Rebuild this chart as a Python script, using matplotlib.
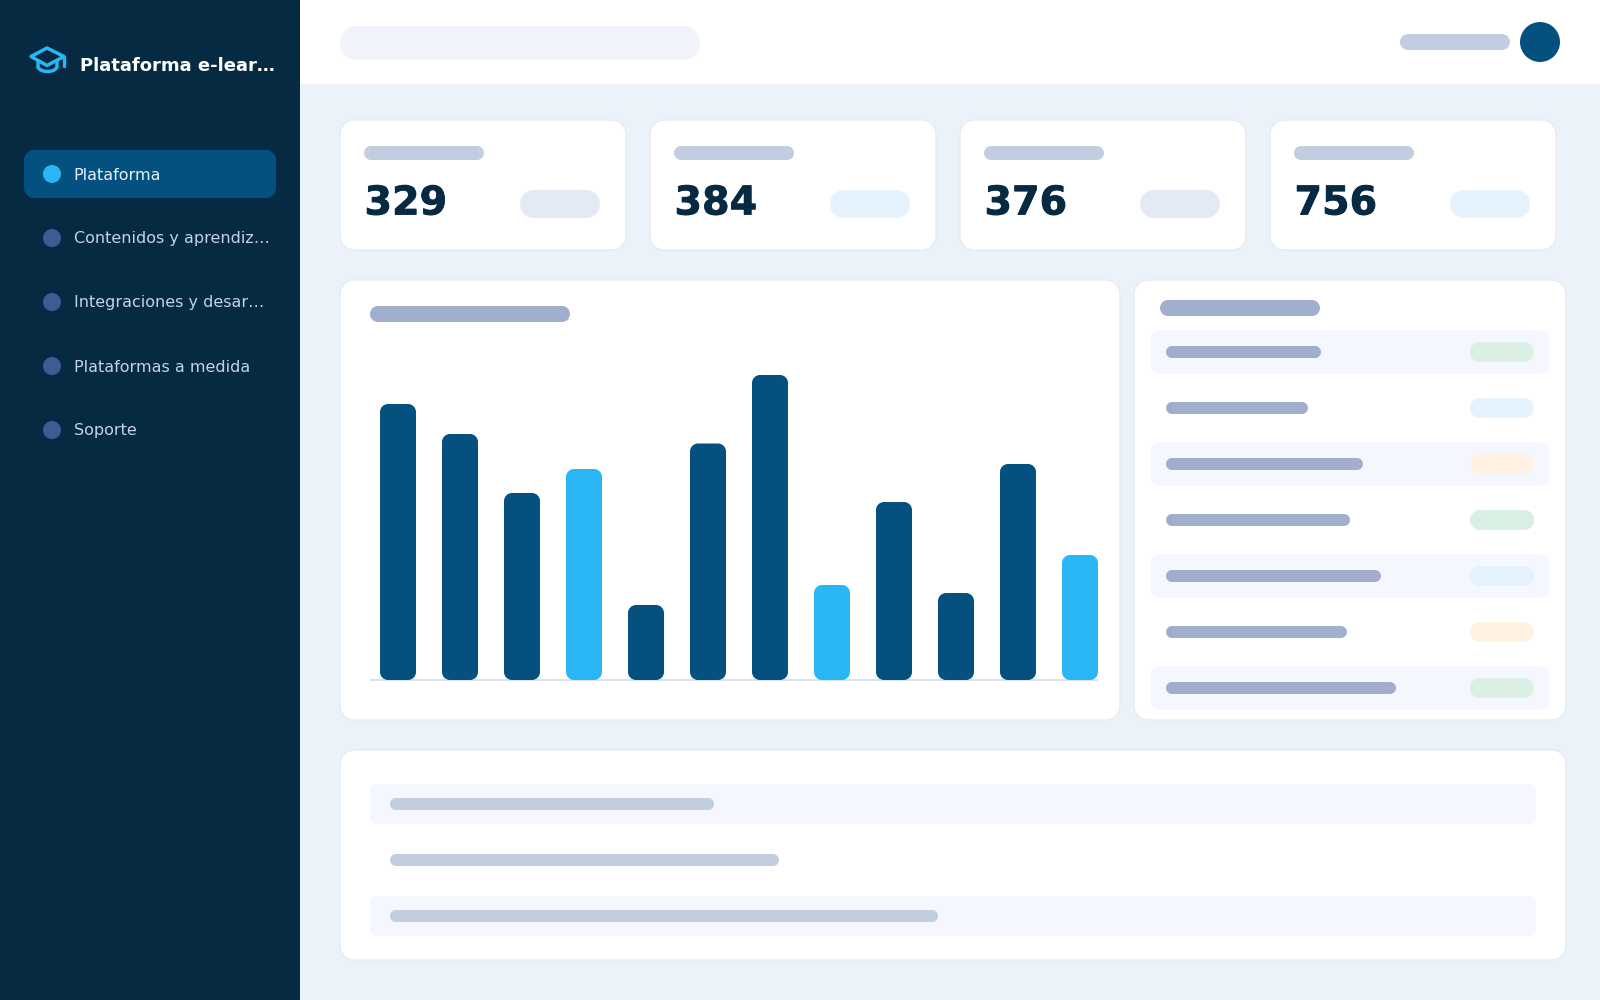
import matplotlib
matplotlib.use("Agg")
import matplotlib.pyplot as plt
import matplotlib.patheffects as pe
from matplotlib.patches import Circle, PathPatch, Rectangle
from matplotlib.path import Path

# chart values
bar_heights = [276, 246, 187, 211, 75, 236.5, 305, 95, 178, 87, 216, 125]
bar_highlight = [0, 0, 0, 1, 0, 0, 0, 1, 0, 0, 0, 1]
kpi_values = ["329", "384", "376", "756"]
kpi_pill_colors = ["#E3E9F5", "#E3F2FD", "#E3E9F5", "#E3F2FD"]
nav_labels = ["Plataforma", "Contenidos y aprendiz…", "Integraciones y desar…",
              "Plataformas a medida", "Soporte"]
list_widths = [155, 142, 197, 184, 215, 181, 230]
list_pills = ["#DAEFE3", "#E3F2FD", "#FFF2E2", "#DAEFE3", "#E3F2FD", "#FFF2E2", "#DAEFE3"]
table_widths = [324, 389, 548]

NAVY = "#052A42"
BLUE = "#04517F"
SKY = "#29B6F6"
BG = "#ECF2FA"
SKEL = "#C3CDE0"
SKEL2 = "#A0AFCD"
ZEBRA = "#F4F7FD"
BORDER = "#E6ECF6"
K = 0.5523


def rrect(x, y, w, h, rx, ry):
    # rounded rectangle with true circular corners, FancyBboxPatch corners look chamfered
    cx, cy = rx * K, ry * K
    verts = [(x + rx, y), (x + w - rx, y),
             (x + w - rx + cx, y), (x + w, y + ry - cy), (x + w, y + ry),
             (x + w, y + h - ry),
             (x + w, y + h - ry + cy), (x + w - rx + cx, y + h), (x + w - rx, y + h),
             (x + rx, y + h),
             (x + rx - cx, y + h), (x, y + h - ry + cy), (x, y + h - ry),
             (x, y + ry),
             (x, y + ry - cy), (x + rx - cx, y), (x + rx, y),
             (x + rx, y)]
    codes = [Path.MOVETO, Path.LINETO, Path.CURVE4, Path.CURVE4, Path.CURVE4,
             Path.LINETO, Path.CURVE4, Path.CURVE4, Path.CURVE4,
             Path.LINETO, Path.CURVE4, Path.CURVE4, Path.CURVE4,
             Path.LINETO, Path.CURVE4, Path.CURVE4, Path.CURVE4, Path.CLOSEPOLY]
    return Path(verts, codes)


fig = plt.figure(figsize=(16, 10), dpi=100, facecolor=BG)
# page axes in pixels, y going down
ax = fig.add_axes([0, 0, 1, 1])
ax.set_xlim(0, 1600)
ax.set_ylim(1000, 0)
ax.axis("off")


def box(x, y, w, h, r, color, edge="none", z=2):
    p = PathPatch(rrect(x, y, w, h, r, r), fc=color, ec=edge,
                  lw=1 if edge != "none" else 0, zorder=z)
    ax.add_patch(p)
    return p


# sidebar and top bar
ax.add_patch(Rectangle((0, 0), 300, 1000, fc=NAVY, ec="none", zorder=1))
ax.add_patch(Rectangle((300, 0), 1300, 84, fc="white", ec="none", zorder=1))
box(340, 26, 360, 34, 17, "#F0F4FA")
box(1400, 34, 110, 16, 8, SKEL)
ax.add_patch(Circle((1540, 42), 20, fc=BLUE, ec="none", zorder=2))

# logo cap
cap = Path([(31, 56.5), (47, 48), (64, 56.5), (47, 65.5), (31, 56.5)],
           [Path.MOVETO, Path.LINETO, Path.LINETO, Path.LINETO, Path.CLOSEPOLY])
ax.add_patch(PathPatch(cap, fc="none", ec=SKY, lw=2.5, joinstyle="round", zorder=3))
band = Path([(38, 61), (38, 67), (40, 73), (55, 73), (57, 67), (57, 61)],
            [Path.MOVETO, Path.LINETO, Path.CURVE4, Path.CURVE4, Path.CURVE4, Path.LINETO])
ax.add_patch(PathPatch(band, fc="none", ec=SKY, lw=2.5, capstyle="round", zorder=3))
ax.plot([64, 64], [57, 66], color=SKY, lw=2.5, solid_capstyle="round", zorder=3)
ax.text(80, 66, "Plataforma e-lear…", color="white", fontsize=13, fontweight="bold",
        va="center", ha="left", zorder=3)

# nav
box(24, 150, 252, 48, 10, BLUE)
for i, label in enumerate(nav_labels):
    cy = 174 + 64 * i
    ax.add_patch(Circle((52, cy), 9, fc=SKY if i == 0 else "#3F5C94", ec="none", zorder=3))
    ax.text(73.7, cy + 1, label, color="#E3F2FD" if i == 0 else "#C3D2E6", fontsize=11.5,
            va="center", ha="left", zorder=3)

# kpi cards
for i, val in enumerate(kpi_values):
    x = 340 + 310 * i
    box(x, 120, 286, 130, 14, "white", BORDER)
    box(x + 24, 146, 120, 14, 7, SKEL, z=3)
    ax.text(x + 24.5, 214.5, val, color=NAVY, fontsize=28.5, fontweight="bold",
            va="baseline", ha="left", zorder=3,
            path_effects=[pe.withStroke(linewidth=0.6, foreground=NAVY)])
    box(x + 180, 190, 80, 28, 14, kpi_pill_colors[i], z=3)

# chart card
box(340, 280, 780, 440, 14, "white", BORDER)
box(370, 306, 200, 16, 8, SKEL2, z=3)

# bars live in their own axes: x in bar slots, y in bar units
ax_bar = fig.add_axes([370 / 1600, 1 - 681 / 1000, 728 / 1600, 341 / 1000])
ax_bar.patch.set_alpha(0)
ax_bar.set_xlim(-28 / 62, -28 / 62 + 728 / 62)
ax_bar.set_ylim(-1, 340)
ax_bar.axis("off")
ax_bar.axhline(0, color="#DCE2EC", lw=1.5, zorder=1)
for i, h in enumerate(bar_heights):
    w = 36 / 62
    col = SKY if bar_highlight[i] else BLUE
    ax_bar.add_patch(PathPatch(rrect(i - w / 2, 0, w, h, 8 / 62, 8), fc=col, ec="none", zorder=2))

# list card
box(1134, 280, 432, 440, 14, "white", BORDER)
box(1160, 300, 160, 16, 8, SKEL2, z=3)
for i, w in enumerate(list_widths):
    y = 330 + 56 * i
    if i % 2 == 0:
        box(1151, y, 399, 44, 10, ZEBRA, z=3)
    box(1166, y + 16, w, 12, 6, SKEL2, z=4)
    box(1470, y + 12, 64, 20, 10, list_pills[i], z=4)

# table card
box(340, 750, 1226, 210, 14, "white", BORDER)
for i, w in enumerate(table_widths):
    y = 784 + 56 * i
    if i % 2 == 0:
        box(370, y, 1166, 40, 6, ZEBRA, z=3)
    box(390, y + 14, w, 12, 6, SKEL, z=4)

fig.savefig("out.png", dpi=100, facecolor=BG)
